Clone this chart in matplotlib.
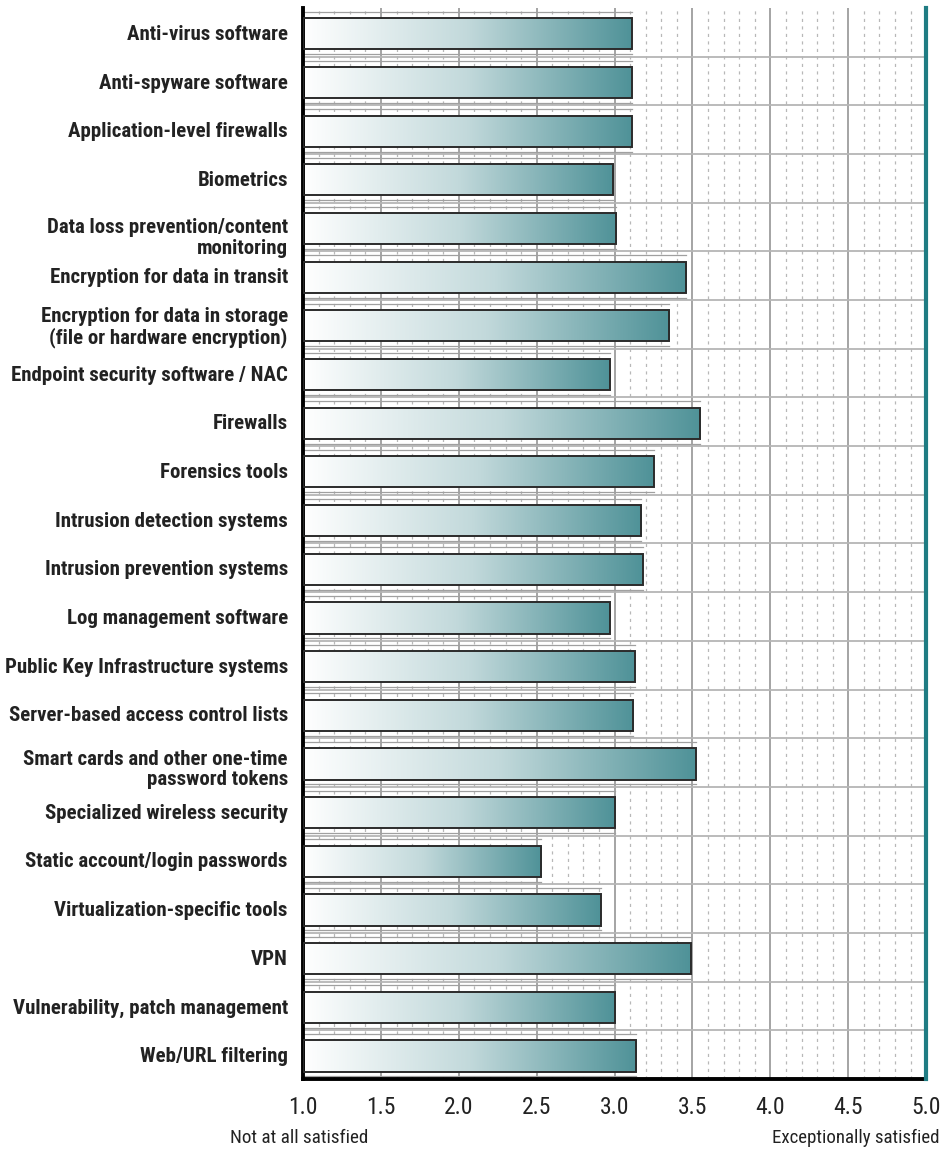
import matplotlib
matplotlib.use("Agg")
import matplotlib.pyplot as plt
import matplotlib.transforms as mtransforms
import numpy as np
from matplotlib.colors import LinearSegmentedColormap
from matplotlib.patches import Rectangle

# ---------------------------------------------------------------------------
# Data
# ---------------------------------------------------------------------------
categories = [
    "Anti-virus software",
    "Anti-spyware software",
    "Application-level firewalls",
    "Biometrics",
    "Data loss prevention/content\nmonitoring",
    "Encryption for data in transit",
    "Encryption for data in storage\n(file or hardware encryption)",
    "Endpoint security software / NAC",
    "Firewalls",
    "Forensics tools",
    "Intrusion detection systems",
    "Intrusion prevention systems",
    "Log management software",
    "Public Key Infrastructure systems",
    "Server-based access control lists",
    "Smart cards and other one-time\npassword tokens",
    "Specialized wireless security",
    "Static account/login passwords",
    "Virtualization-specific tools",
    "VPN",
    "Vulnerability, patch management",
    "Web/URL filtering",
]
scores = [3.11, 3.11, 3.11, 2.99, 3.01, 3.46, 3.35, 2.97, 3.55, 3.25, 3.17,
          3.18, 2.97, 3.13, 3.12, 3.52, 3.00, 2.53, 2.91, 3.49, 3.00, 3.14]
x_ticks = [1.0, 1.5, 2.0, 2.5, 3.0, 3.5, 4.0, 4.5, 5.0]
low_label = "Not at all satisfied"
high_label = "Exceptionally satisfied"

FONT = ["Roboto Condensed", "Liberation Sans", "DejaVu Sans"]
TEAL = "#1f7c83"
TXT = "#222222"
cmap = LinearSegmentedColormap.from_list("bar", ["#ffffff", "#c2d9db", "#4f9298"])

fig = plt.figure(figsize=(9.47, 11.49), dpi=100)
ax = fig.add_axes([0.32, 0.061, 0.658, 0.932])

n = len(categories)

# grid: minor dashed, major solid
for v in np.arange(1.1, 5.0, 0.1):
    if abs(v * 2 - round(v * 2)) > 1e-6:
        ax.axvline(v, color="#b8b8b8", lw=0.9, ls=(0, (2.5, 3.5)), zorder=0)
for v in x_ticks[1:-1]:
    ax.axvline(v, color="#8c8c8c", lw=1.1, zorder=0)
for i in range(n - 1):
    ax.axhline(i + 0.5, color="#b5b5b5", lw=1.3, zorder=0)

h = 0.64
grad = np.linspace(0, 1, 256).reshape(1, -1)
for i, val in enumerate(scores):
    y0 = i - h / 2 + 0.03
    # faint depth lines around the bar
    ax.plot([1.0, val], [y0 - 0.13, y0 - 0.13], color="#a0a0a0", lw=0.9, zorder=1)
    ax.plot([1.0, val], [y0 + h + 0.1, y0 + h + 0.1], color="#a0a0a0", lw=0.9, zorder=1)
    rect = Rectangle((1.0, y0), val - 1.0, h, facecolor="none",
                     edgecolor="#2b2b2b", lw=1.4, zorder=3)
    ax.add_patch(rect)
    im = ax.imshow(grad, cmap=cmap, aspect="auto",
                   extent=[1.0, val, y0 + h, y0], zorder=2)
    im.set_clip_path(rect)

ax.set_ylim(n - 0.5, -0.5)
ax.set_xlim(1.0, 5.0)

ax.set_yticks(range(n))
ax.set_yticklabels(categories, family=FONT, fontweight="bold", fontsize=15,
                   color=TXT, linespacing=1.12)
ax.tick_params(axis="y", length=0, pad=11)
# two-line labels sit a little low in the original
for lbl in ax.get_yticklabels():
    if lbl.get_text().startswith(("Data loss", "Smart cards")):
        shift = -6 if lbl.get_text().startswith("Data") else -3
        lbl.set_transform(lbl.get_transform() + mtransforms.ScaledTranslation(
            0, shift / 72, fig.dpi_scale_trans))

ax.set_xticks(x_ticks)
ax.set_xticklabels([f"{v:.1f}" for v in x_ticks], family=FONT, fontsize=17,
                   color=TXT)
ax.tick_params(axis="x", length=0, pad=12)

for s in ["top", "right"]:
    ax.spines[s].set_visible(False)
ax.spines["left"].set_linewidth(2.8)
ax.spines["bottom"].set_linewidth(2.8)
ax.axvline(5.0, color=TEAL, lw=3, zorder=4, clip_on=False)

fig.text(0.243, 0.002, low_label, family=FONT, fontsize=13.8, color=TXT,
         ha="left", va="bottom")
fig.text(0.992, 0.002, high_label, family=FONT, fontsize=13.6, color=TXT,
         ha="right", va="bottom")

fig.savefig("out.png", dpi=100)
